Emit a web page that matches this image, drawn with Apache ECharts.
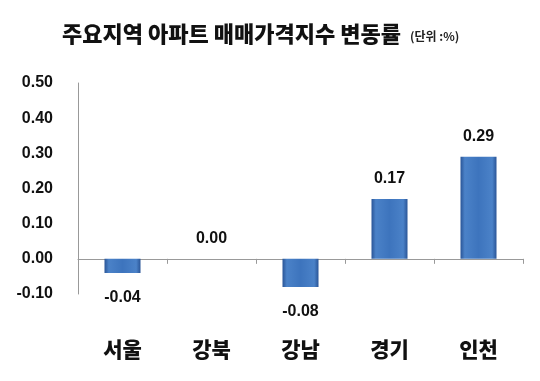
<!DOCTYPE html>
<html><head><meta charset="utf-8">
<script src="https://cdn.jsdelivr.net/npm/echarts@6/dist/echarts.min.js"></script>
<style>html,body{margin:0;padding:0;background:#fff}#c{width:540px;height:381px}</style>
</head><body><div id="c"></div>
<script>
const categories = ['서울', '강북', '강남', '경기', '인천'];
const values = [-0.04, 0.00, -0.08, 0.17, 0.29];
const yTicks = [-0.10, 0.00, 0.10, 0.20, 0.30, 0.40, 0.50];

const chart = echarts.init(document.getElementById('c'));
const grad = new echarts.graphic.LinearGradient(0, 0, 1, 0, [
  {offset: 0, color: '#2a5597'},
  {offset: 0.12, color: '#4b82c8'},
  {offset: 0.5, color: '#3d74bd'},
  {offset: 0.88, color: '#4b82c8'},
  {offset: 1, color: '#2a5597'}
]);
chart.setOption({
  animation: false,
  title: {
    text: '주요지역 아파트 매매가격지수 변동률 {s|(단위 :%)}',
    left: 57, top: 18,
    textStyle: {
      fontFamily: 'Noto Sans CJK KR', fontWeight: 900, fontSize: 22, color: '#111',
      rich: { s: { fontFamily: 'Noto Sans CJK KR', fontSize: 12, fontWeight: 'bold', color: '#222', padding: [5, 0, 0, 4] } }
    }
  },
  grid: { left: 78, right: 17, top: 83, bottom: 87, outerBoundsMode: 'none', containLabel: false },
  xAxis: {
    type: 'category', data: categories,
    axisLine: { onZero: true, lineStyle: { color: '#999', width: 1 } },
    axisTick: { show: true, length: 5, lineStyle: { color: '#999' } },
    axisLabel: { margin: 45, fontFamily: 'Noto Sans CJK KR', fontWeight: 900, fontSize: 21, color: '#111' }
  },
  yAxis: {
    type: 'value', min: yTicks[0], max: yTicks[yTicks.length - 1], interval: 0.1,
    axisLine: { show: true, lineStyle: { color: '#999' } },
    axisTick: { show: false },
    splitLine: { show: false },
    axisLabel: { margin: 25, fontFamily: 'Liberation Sans', fontWeight: 'bold', fontSize: 16, color: '#111',
      formatter: v => v.toFixed(2) }
  },
  series: [{
    type: 'bar', barWidth: 36,
    data: values.map(v => ({
      value: v,
      itemStyle: v === 0 ? { color: '#ddd' } : { color: grad },
      label: { position: v < 0 ? 'bottom' : 'top', distance: v < 0 ? 17 : 12 }
    })),
    label: { show: true, fontFamily: 'Liberation Sans', fontWeight: 'bold', fontSize: 16, color: '#111',
      formatter: p => p.value.toFixed(2) }
  }]
});
</script></body></html>
